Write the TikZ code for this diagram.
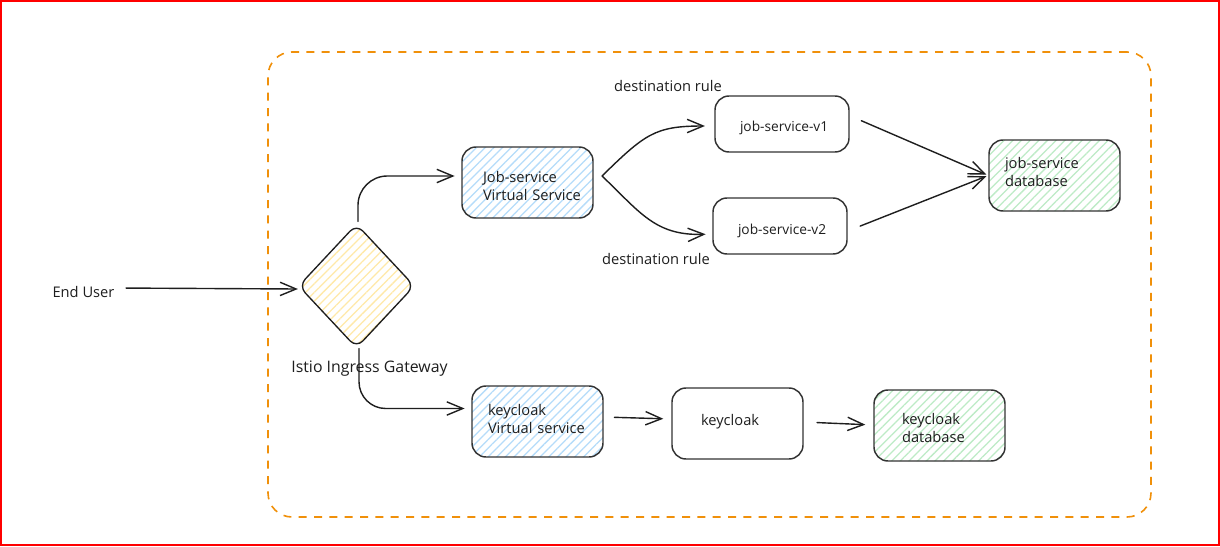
\documentclass[tikz,border=0pt]{standalone}
\usepackage{fontspec}
\setmainfont{Open Sans}
\usetikzlibrary{arrows.meta,patterns.meta,shapes.geometric,calc}
\definecolor{ink}{HTML}{1E1E1E}
\definecolor{edge}{HTML}{333333}
\definecolor{hblue}{HTML}{B5DCFA}
\definecolor{hgreen}{HTML}{BDEBC6}
\definecolor{hyellow}{HTML}{FFE9A8}
\definecolor{frameorange}{HTML}{F0900A}
\tikzset{
  lbl/.style={text=ink,font=\fontsize{11pt}{13.5pt}\selectfont,inner sep=0pt},
  % #1 width px, #2 height px, #3 left text offset px, #4 text shift down px
  box/.style n args={4}{rectangle,rounded corners=10.5pt,draw=edge,line width=1.1pt,
    minimum width=#1*0.75pt,minimum height=#2*0.75pt,text width=#1*0.75pt,
    inner xsep=0pt,inner ysep=0pt,align=left,text=ink,
    font=\fontsize{11pt}{13.5pt}\selectfont,
    execute at begin node={\leftskip=#3\dimexpr 0.75pt\relax\vskip #4\dimexpr 1.5pt\relax}},
  hatch/.style={pattern={Lines[angle=45,distance=4.6pt,line width=0.95pt]},pattern color=#1},
  arr/.style={draw=ink,line width=1.05pt,line join=round,line cap=round,
    -{Straight Barb[length=12pt,width=10pt,line width=1.05pt]}},
}
\begin{document}
\begin{tikzpicture}[x=0.75pt,y=-0.75pt]
\useasboundingbox (0,0) rectangle (1220,546);
\fill[white] (0,0) rectangle (1220,546);
\node[rectangle,draw=red,line width=1.5pt,inner sep=0pt,minimum width=913.5pt,minimum height=408pt] (outer) at (610,273) {};
\node[rectangle,draw=frameorange,line width=1.2pt,rounded corners=18pt,dash pattern=on 6pt off 5.5pt,
  minimum width=662.25pt,minimum height=348.75pt,inner sep=0pt] (zone) at (709.5,284.5) {};

\node[diamond,draw=ink,line width=1pt,rounded corners=7pt,hatch=hyellow,inner sep=0pt,
  minimum width=87pt,minimum height=93pt] (gw) at (356.5,286) {};

\node[box={131}{71}{21}{0.5},hatch=hblue] (jvs) at (527.5,182.5) {Job-service\\Virtual Service};
\node[box={134}{56}{25}{0},font=\fontsize{10.3pt}{13.5pt}\selectfont] (v1) at (782,124) {job-service-v1};
\node[box={134}{56}{25}{1},font=\fontsize{10.3pt}{13.5pt}\selectfont] (v2) at (780,226) {job-service-v2};
\node[box={131}{71}{16}{-7},hatch=hgreen] (jdb) at (1054.5,175.5) {job-service\\database};
\node[box={131}{71}{16}{-6},hatch=hblue] (kvs) at (537.5,421.5) {keycloak\\Virtual service};
\node[box={131}{71}{29}{-5}] (kc) at (737.5,423.5) {keycloak};
\node[box={131}{71}{28}{-0.5},hatch=hgreen] (kdb) at (939.5,425.5) {keycloak\\database};

\node[lbl,anchor=center] (user) at (83.5,292) {End User};
\node[lbl,anchor=center,font=\fontsize{11.9pt}{14pt}\selectfont] (gwl) at (369.5,369) {Istio Ingress Gateway};
\node[lbl,anchor=center] (dr1) at (668,86) {destination rule};
\node[lbl,anchor=center] (dr2) at (656,259) {destination rule};

\coordinate (fork) at (602,176);

\draw[arr,shorten <=8.5pt,shorten >=0pt] ($(user.east)+(0,-4)$) -- ($(gw.west)+(0,3)$);
\draw[arr,rounded corners=22pt,shorten <=1.5pt,shorten >=5pt] ($(gw.north)+(1.5,0)$) |- ($(jvs.west)+(0,-6.5)$);
\draw[arr,rounded corners=20pt,shorten >=5pt] ($(gw.south)+(2.5,0)$) |- ($(kvs.west)+(0,-13)$);
\draw[arr,shorten >=7pt] (fork) .. controls (645,134) and (655,126) .. ($(v1.west)+(0,2)$);
\draw[arr,shorten >=5pt] (fork) .. controls (640,212) and (655,236) .. ($(v2.west)+(0,8)$);
\draw[arr,shorten <=9.5pt,shorten >=1.5pt] ($(v1.east)+(0,-8.3)$) -- (jdb.west);
\draw[arr,shorten <=10pt,shorten >=1.5pt] ($(v2.east)+(0,5)$) -- (jdb.west);
\draw[arr,shorten <=8pt,shorten >=6pt] ($(kvs.east)+(0,-4.5)$) -- ($(kc.west)+(0,-4.5)$);
\draw[arr,shorten <=10pt,shorten >=6pt] ($(kc.east)+(0,-1.5)$) -- ($(kdb.west)+(0,-0.5)$);
\end{tikzpicture}
\end{document}
